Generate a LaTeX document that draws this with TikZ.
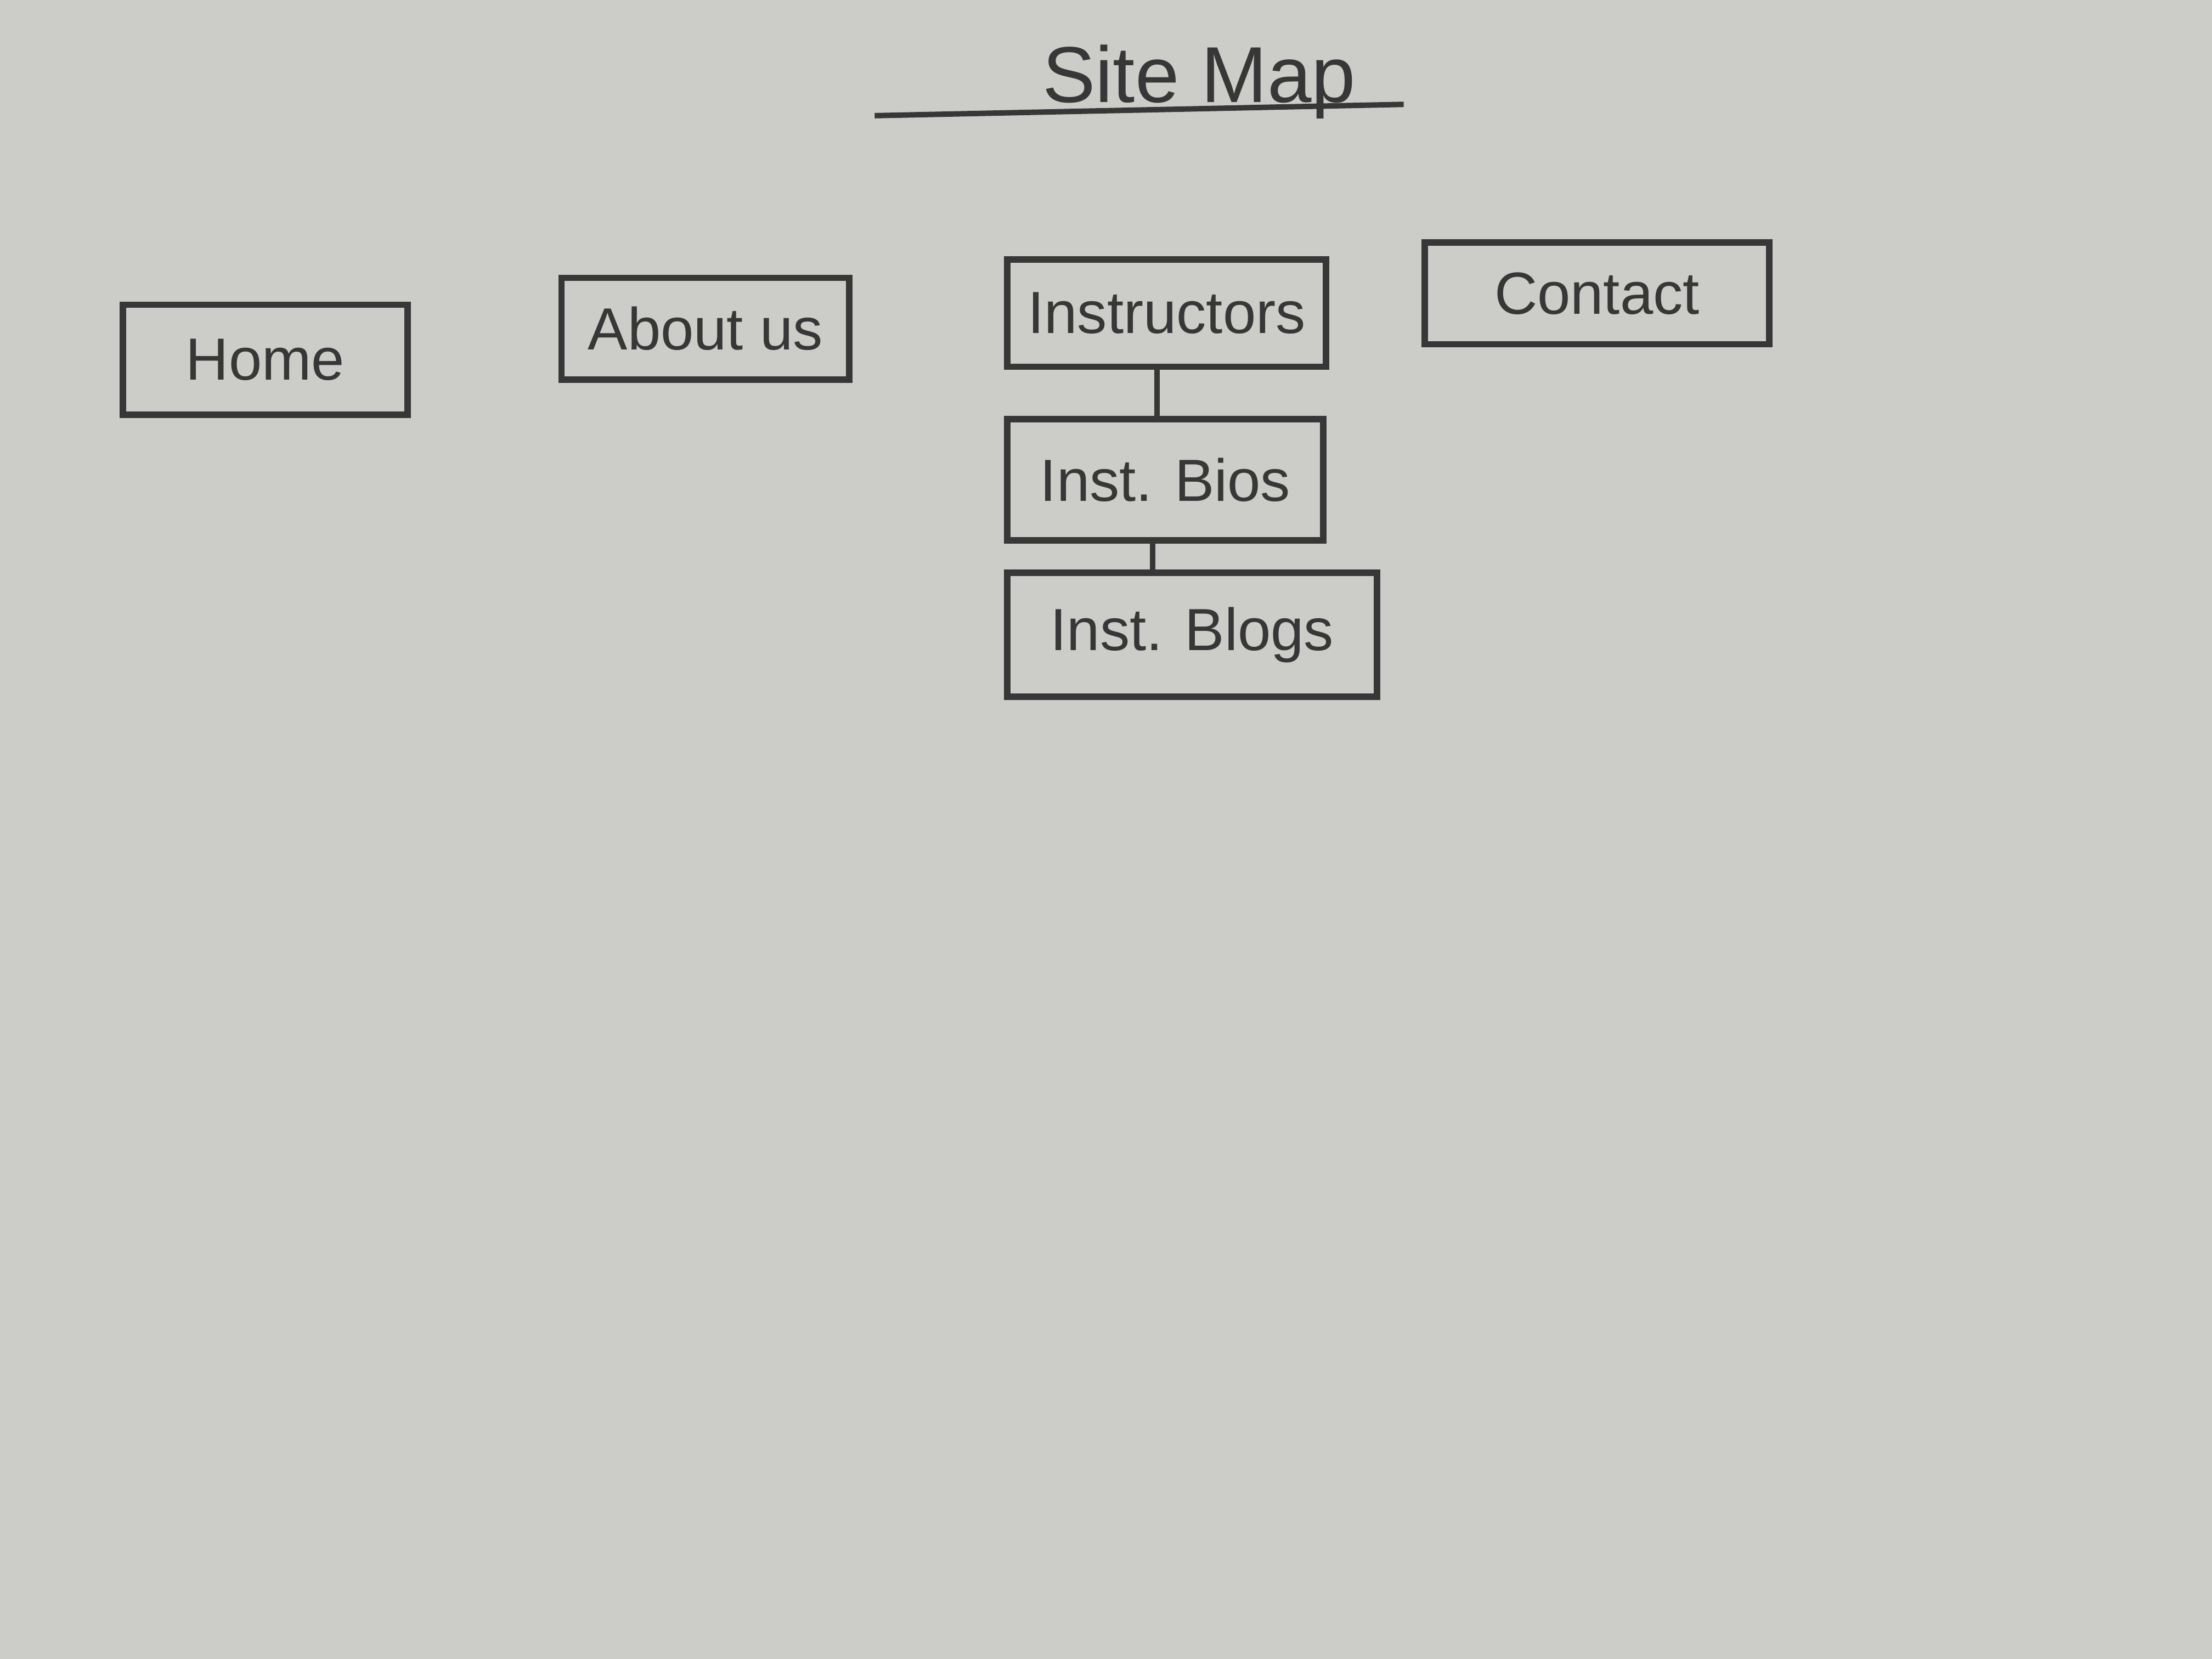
\documentclass[tikz,border=0pt]{standalone}
\usepackage{fontspec}
\setmainfont{Liberation Sans}
\definecolor{paper}{RGB}{204,205,200}
\definecolor{pencil}{RGB}{55,55,55}
\begin{document}
\begin{tikzpicture}[x=1cm,y=1cm,
  box/.style={draw=pencil, line width=1.3pt, text=pencil, inner sep=0pt,
    font=\fontsize{12}{14}\selectfont},
  link/.style={draw=pencil, line width=1.1pt}]
\fill[paper] (0,0) rectangle (15.68,-11.76);
\useasboundingbox (0,0) rectangle (15.68,-11.76);
% title
\node[text=pencil, font=\fontsize{16}{18}\selectfont] (title) at (8.50,-0.58) {Site Map};
\coordinate (ulA) at (6.20,-0.82);
\coordinate (ulB) at (9.95,-0.74);
\draw[link] (ulA) -- (ulB);
% top level
\node[box, minimum width=2.02cm, minimum height=0.78cm] (home) at (1.88,-2.55) {Home};
\node[box, minimum width=2.04cm, minimum height=0.72cm] (about) at (5.00,-2.33) {About us};
\node[box, minimum width=2.26cm, minimum height=0.76cm] (instr) at (8.27,-2.22) {Instructors};
\node[box, minimum width=2.44cm, minimum height=0.72cm] (contact) at (11.32,-2.08) {Contact};
% children
\node[box, minimum width=2.24cm, minimum height=0.86cm] (bios) at (8.26,-3.40) {Inst. Bios};
\node[box, minimum width=2.62cm, minimum height=0.88cm] (blogs) at (8.45,-4.50) {Inst. Blogs};
\draw[link] (instr.south -| 8.20,0) -- (bios.north -| 8.20,0);
\draw[link] (bios.south -| 8.17,0) -- (blogs.north -| 8.17,0);
\end{tikzpicture}
\end{document}
